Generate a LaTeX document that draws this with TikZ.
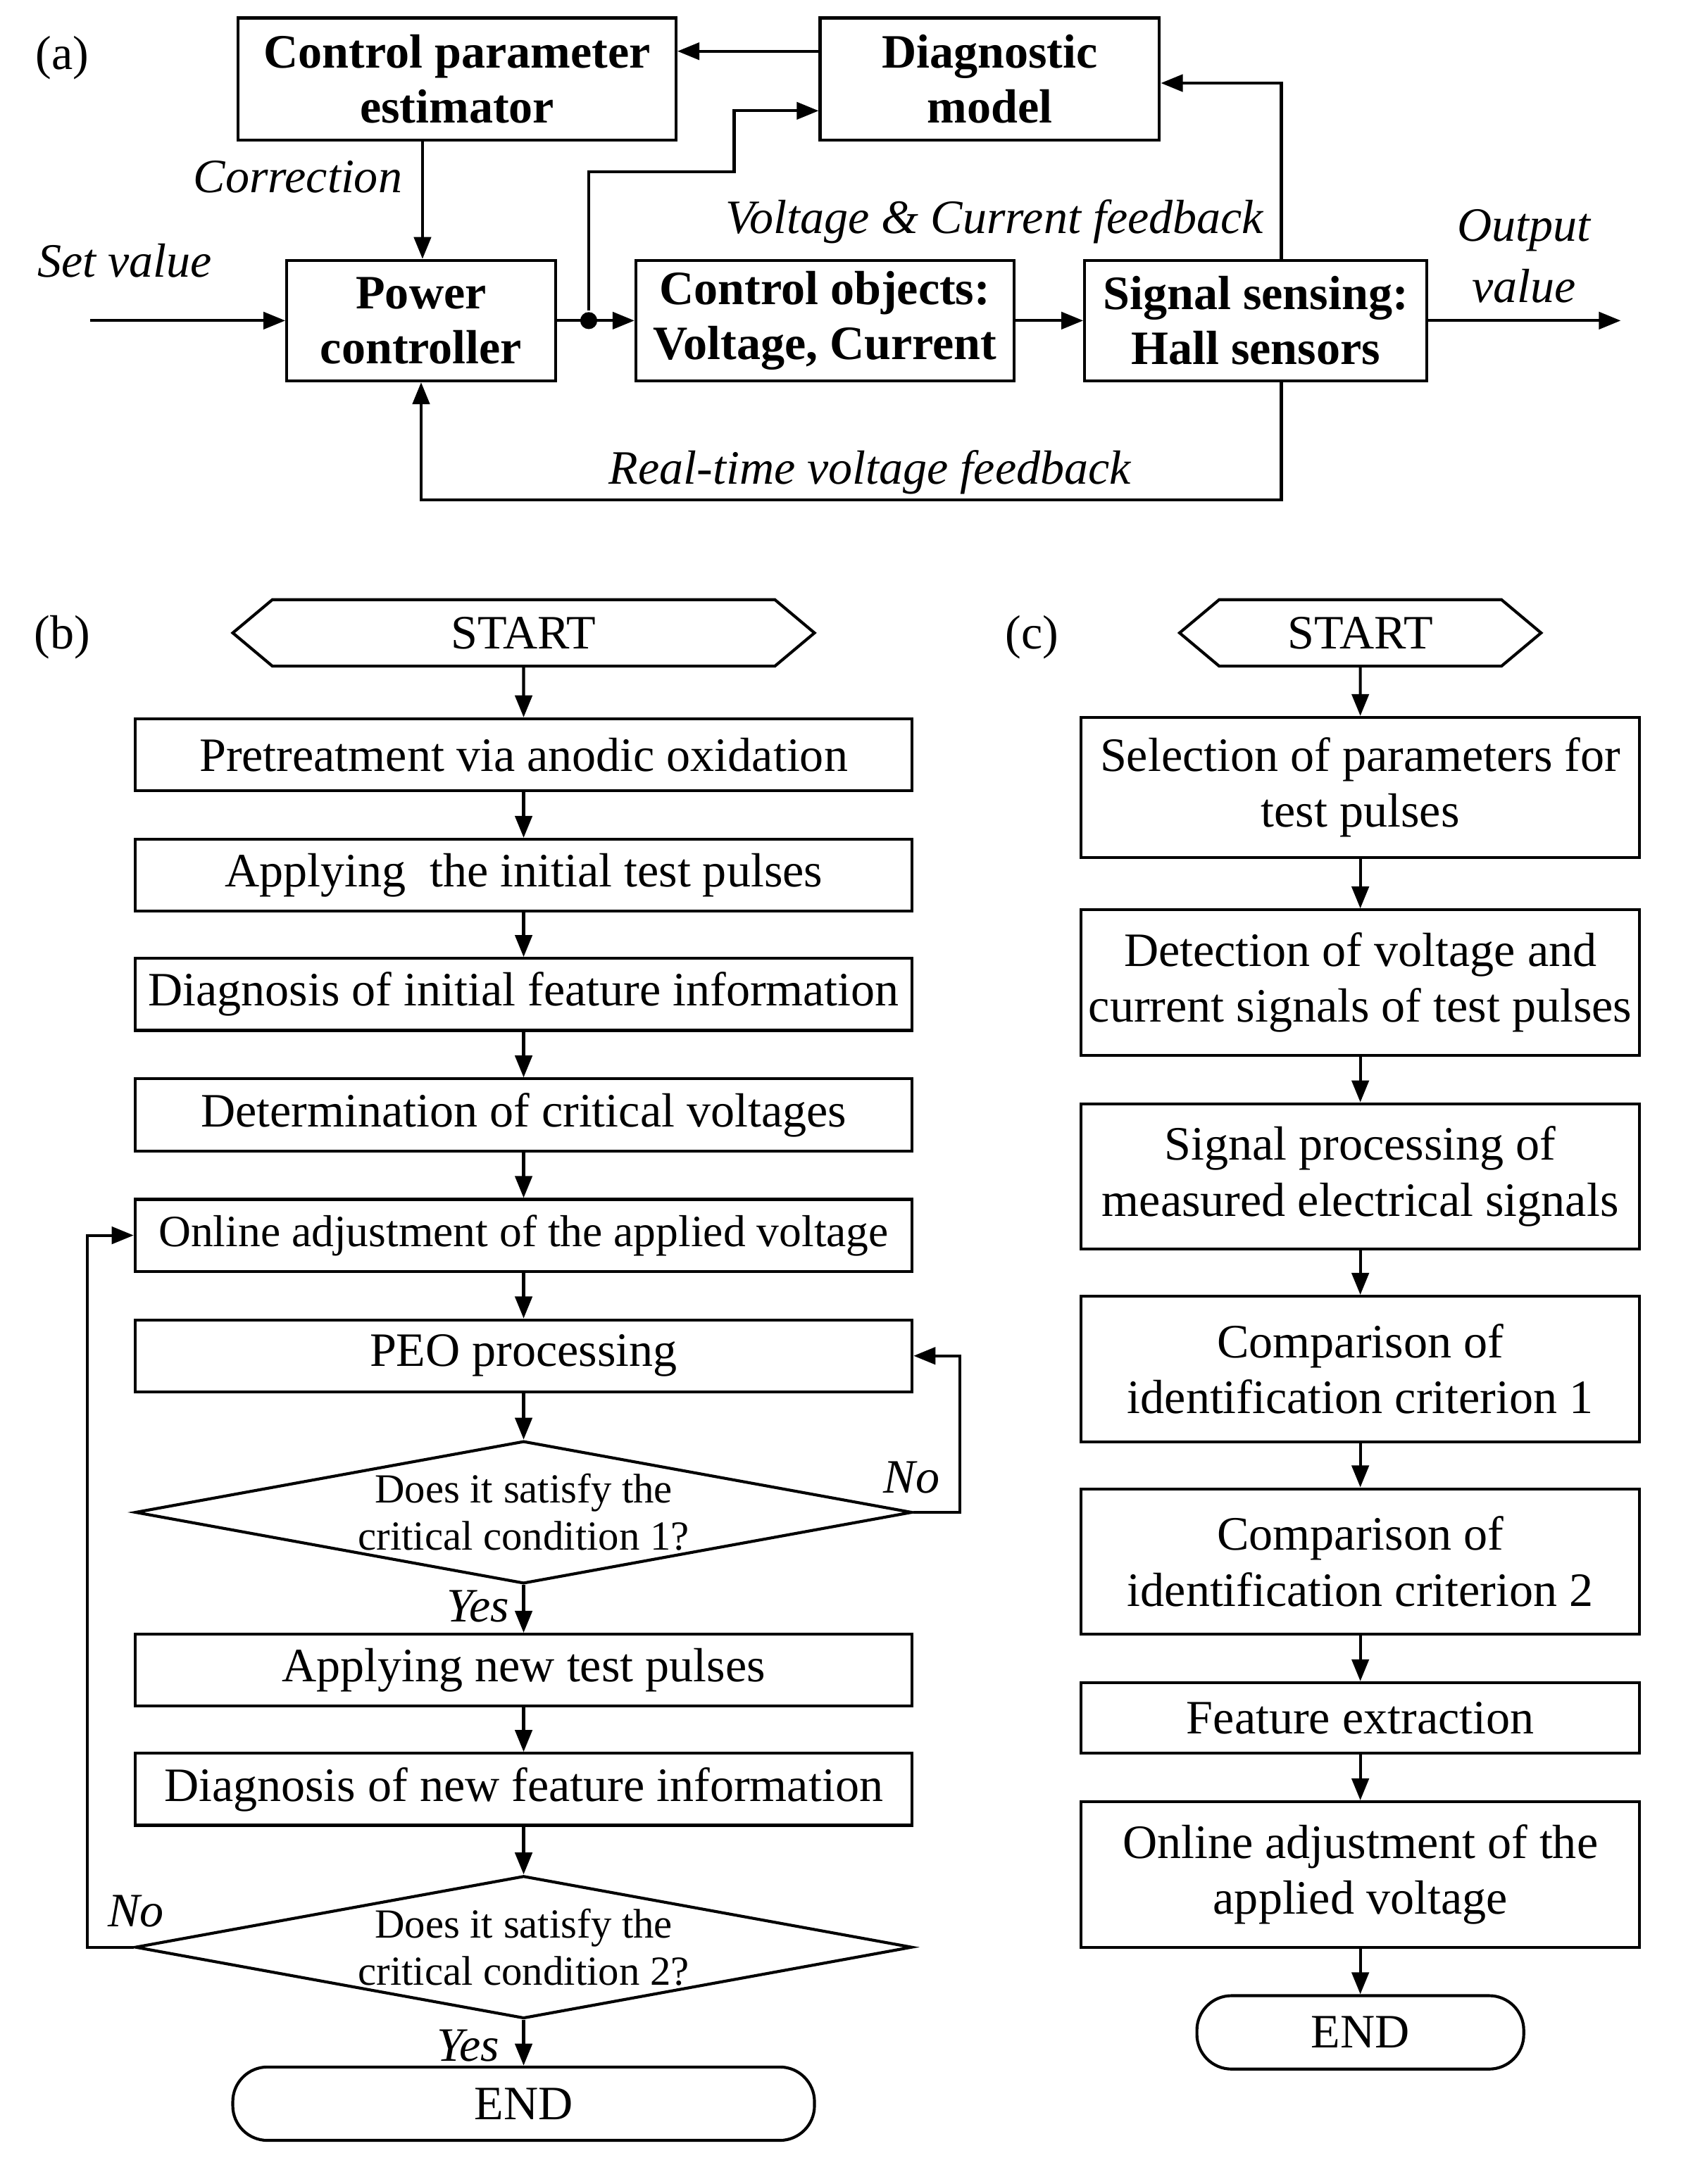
\documentclass[tikz,border=0pt]{standalone}
\usepackage{fontspec}
\setmainfont{Liberation Serif}
\usetikzlibrary{positioning,shapes.geometric,shapes.symbols,arrows.meta}

\begin{document}
\begin{tikzpicture}[x=0.02cm, y=-0.02cm, line width=1.2pt,
txt/.style={font=\fontsize{19.7}{23}\selectfont},
blk/.style={rectangle, draw, align=center, inner sep=0pt, font=\bfseries\fontsize{19.7}{22.5}\selectfont},
proc/.style={rectangle, draw, align=center, inner sep=0pt, txt},
cond/.style={diamond, draw, align=center, inner sep=0pt, aspect=5.45, minimum width=11.22cm, minimum height=2.06cm, font=\fontsize{17}{19.5}\selectfont},
term/.style={signal, signal to=west and east, signal pointer angle=80, draw, inner sep=0pt, minimum height=0.96cm, txt},
stop/.style={rectangle, rounded corners=0.5cm, draw, inner sep=0pt, minimum height=1.06cm, txt},
lbl/.style={font=\itshape\fontsize{19.7}{22}\selectfont, align=center},
arr/.style={-{Triangle[length=9pt,width=7pt]}},
]
\useasboundingbox (0,0) rectangle (1213,1577);

%Panel (a)
\node[txt] (la) at (45,42) {(a)};
\node[blk, minimum width=6.32cm, minimum height=1.76cm] (CPE)  at (330,57)    {Control parameter\\estimator};
\node[blk, minimum width=4.9cm,  minimum height=1.76cm] (Diag) at (714.5,57)  {Diagnostic\\model};
\node[blk, minimum width=3.88cm, minimum height=1.74cm] (PC)   at (304,231.5) {Power\\controller};
\node[blk, minimum width=5.46cm, minimum height=1.74cm] (CO)   at (595.5,231.5) {Control objects:\\Voltage, Current};
\node[blk, minimum width=4.94cm, minimum height=1.74cm] (SS)   at (906.5,231.5) {Signal sensing:\\Hall sensors};
\node[circle, fill, inner sep=0pt, minimum size=7pt] (dot) at (425,231.5) {};
\coordinate (setin) at (65,231.5);
\coordinate (outv) at (1170,231.5);
\node[lbl] (corr) at (215,128) {Correction};
\node[lbl] (setv) at (90,188) {Set value};
\node[lbl] (vcf)  at (718,160) {Voltage \& Current feedback};
\node[lbl, font=\itshape\fontsize{19.7}{25}\selectfont] (outl) at (1100,185) {Output\\value};
\node[lbl] (rtv)  at (628,341) {Real-time voltage feedback};

\draw[arr] (Diag.west |- 0,37) -- (CPE.east |- 0,37);
\draw[arr] (CPE.south -| 305,0) -- (PC.north -| 305,0);
\draw[arr] (setin) -- (PC.west);
\draw[arr] (PC.east) -- (CO.west);
\draw[arr] (dot) |- (530,124) |- (Diag.west |- 0,80);
\draw[arr] (CO.east) -- (SS.west);
\draw[arr] (SS.north -| 925,0) |- (Diag.east |- 0,60);
\draw[arr] (SS.east) -- (outv);
\draw[arr] (SS.south -| 925,0) -- (925,361) -| (PC.south);

%Panel (b)
\node[txt] (lb) at (45,460) {(b)};
\node[term, minimum width=8.4cm] (bstart) at (378,457) {START};
\node[proc, minimum width=11.22cm, minimum height=1.04cm] (b1) at (378,545) {Pretreatment via anodic oxidation};
\node[proc, minimum width=11.22cm, minimum height=1.04cm] (b2) at (378,632) {Applying\ \ the initial test pulses};
\node[proc, minimum width=11.22cm, minimum height=1.04cm] (b3) at (378,718) {Diagnosis of initial feature information};
\node[proc, minimum width=11.22cm, minimum height=1.04cm, font=\fontsize{18.4}{22}\selectfont] (b5) at (378,892) {Online adjustment of the applied voltage};
\node[proc, minimum width=11.22cm, minimum height=1.04cm] (b4) at (378,805) {Determination of critical voltages};
\node[proc, minimum width=11.22cm, minimum height=1.04cm] (b6) at (378,979) {PEO processing};
\node[cond] (c1) at (378,1092) {Does it satisfy the\\critical condition 1?};
\node[proc, minimum width=11.22cm, minimum height=1.04cm] (b7) at (378,1206) {Applying new test pulses};
\node[proc, minimum width=11.22cm, minimum height=1.04cm] (b8) at (378,1292) {Diagnosis of new feature information};
\node[cond] (c2) at (378,1406) {Does it satisfy the\\critical condition 2?};
\node[stop, minimum width=8.4cm] (bend) at (378,1519) {END};
\node[lbl] (no1)  at (658,1067) {No};
\node[lbl] (yes1) at (345,1160) {Yes};
\node[lbl] (no2)  at (98,1380) {No};
\node[lbl] (yes2) at (338,1477) {Yes};

\draw[arr] (bstart) -- (b1);
\draw[arr] (b1) -- (b2);
\draw[arr] (b2) -- (b3);
\draw[arr] (b3) -- (b4);
\draw[arr] (b4) -- (b5);
\draw[arr] (b5) -- (b6);
\draw[arr] (b6) -- (c1);
\draw[arr] (c1) -- (b7);
\draw[arr] (b7) -- (b8);
\draw[arr] (b8) -- (c2);
\draw[arr] (c2) -- (bend);
\draw[arr] (c1.east) -- (693,1092) |- (b6.east);
\draw[arr] (c2.west) -- (63,1406) |- (b5.west);

%Panel (c)
\node[txt] (lc) at (745,460) {(c)};
\node[term, minimum width=5.22cm] (cstart) at (982,457) {START};
\node[proc, minimum width=8.06cm, minimum height=2.02cm] (s1) at (982,568.5) {Selection of parameters for\\test pulses};
\node[proc, minimum width=8.06cm, minimum height=2.1cm]  (s2) at (982,709.5) {Detection of voltage and\\current signals of test pulses};
\node[proc, minimum width=8.06cm, minimum height=2.1cm]  (s3) at (982,849.5) {Signal processing of\\measured electrical signals};
\node[proc, minimum width=8.06cm, minimum height=2.1cm]  (s4) at (982,988.5) {Comparison of\\identification criterion 1};
\node[proc, minimum width=8.06cm, minimum height=2.1cm]  (s5) at (982,1127.5) {Comparison of\\identification criterion 2};
\node[proc, minimum width=8.06cm, minimum height=1.02cm] (s6) at (982,1240.5) {Feature extraction};
\node[proc, minimum width=8.06cm, minimum height=2.1cm]  (s7) at (982,1353.5) {Online adjustment of the\\applied voltage};
\node[stop, minimum width=4.72cm] (cend) at (982,1467.5) {END};

\draw[arr] (cstart) -- (s1);
\draw[arr] (s1) -- (s2);
\draw[arr] (s2) -- (s3);
\draw[arr] (s3) -- (s4);
\draw[arr] (s4) -- (s5);
\draw[arr] (s5) -- (s6);
\draw[arr] (s6) -- (s7);
\draw[arr] (s7) -- (cend);
\end{tikzpicture}
\end{document}
